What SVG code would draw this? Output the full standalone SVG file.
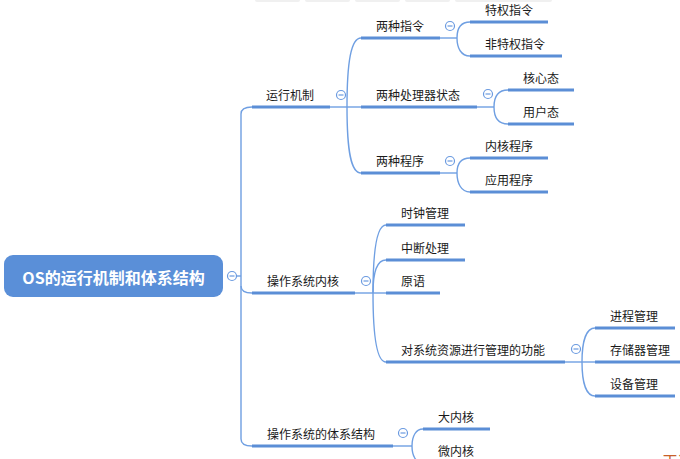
<svg xmlns="http://www.w3.org/2000/svg" width="680" height="459" viewBox="0 0 680 459">
<style>
  text { font-family: "Noto Sans CJK SC", "Liberation Sans", sans-serif; font-size: 12px; fill: #1a1a1a; }
  .root-text { font-size: 16px; font-weight: bold; fill: #ffffff; }
  .ul { stroke: #5B8ED6; stroke-width: 3; fill: none; }
  .ln { stroke: #6F9FE2; stroke-width: 1.4; fill: none; }
  .tog circle { fill: #ffffff; stroke: #6A9AE0; stroke-width: 1.2; }
  .tog line { stroke: #6A9AE0; stroke-width: 1.2; }
  .bar { fill: #f0f0f0; }
</style>
<rect x="0" y="0" width="680" height="459" fill="#ffffff"/>
<g id="toolbar">
  <rect class="bar" x="255" y="-4" width="45" height="6" rx="2"/>
  <rect class="bar" x="305" y="-4" width="45" height="6" rx="2"/>
  <rect class="bar" x="355" y="-4" width="45" height="6" rx="2"/>
  <rect class="bar" x="405" y="-4" width="45" height="6" rx="2"/>
  <rect class="bar" x="455" y="-4" width="97" height="6" rx="2"/>
</g>
<g id="connectors">
  <path class="ln" d="M237,276 L241,276"/>
  <path class="ln" d="M252,107 Q241,107 241,114 L241,439 Q241,446 252,446"/>
  <path class="ln" d="M241,286 Q241,293 252,293"/>
  <path class="ln" d="M330,107 L361,107"/>
  <path class="ln" d="M347,107 C347,62 351,38 361,38"/>
  <path class="ln" d="M347,107 C347,152 351,173 361,173"/>
  <path class="ln" d="M440,38 L457,38"/>
  <path class="ln" d="M457,38 C457,28 461,22 470,22"/>
  <path class="ln" d="M457,38 C457,48 461,56 470,56"/>
  <path class="ln" d="M477,107 L494,107"/>
  <path class="ln" d="M494,107 C494,97 498,90 508,90"/>
  <path class="ln" d="M494,107 C494,117 498,124 508,124"/>
  <path class="ln" d="M440,173 L457,173"/>
  <path class="ln" d="M457,173 C457,163 461,158 470,158"/>
  <path class="ln" d="M457,173 C457,183 461,192 470,192"/>
  <path class="ln" d="M355,293 L386,293"/>
  <path class="ln" d="M373,293 C373,248 377,225 386,225"/>
  <path class="ln" d="M373,293 C373,272 377,260 386,260"/>
  <path class="ln" d="M373,293 C373,338 377,362 386,362"/>
  <path class="ln" d="M565,362 L595,362"/>
  <path class="ln" d="M582,362 C582,342 586,328 595,328"/>
  <path class="ln" d="M582,362 C582,382 586,396 595,396"/>
  <path class="ln" d="M393,446 L412,446"/>
  <path class="ln" d="M412,446 C412,436 416,429 423,429"/>
  <path class="ln" d="M412,446 C412,456 416,463 423,463"/>
</g>
<g id="root">
  <rect x="4" y="255" width="219" height="42" rx="9" fill="#5A8FD8"/>
  <text class="root-text" x="113.5" y="284" text-anchor="middle">OS的运行机制和体系结构</text>
  <g class="tog"><circle cx="232" cy="276" r="4.5"/><line x1="229.5" y1="276" x2="234.5" y2="276"/></g>
</g>
<g id="n-yunxingjizhi">
  <text x="266" y="100">运行机制</text>
  <line class="ul" x1="252" y1="107" x2="330" y2="107"/>
  <g class="tog"><circle cx="341" cy="95" r="4.5"/><line x1="338.5" y1="95" x2="343.5" y2="95"/></g>
</g>
<g id="n-liangzhongzhiling">
  <text x="376" y="31">两种指令</text>
  <line class="ul" x1="361" y1="38" x2="440" y2="38"/>
  <g class="tog"><circle cx="450" cy="26" r="4.5"/><line x1="447.5" y1="26" x2="452.5" y2="26"/></g>
</g>
<g id="n-tequanzhiling">
  <text x="485" y="15">特权指令</text>
  <line class="ul" x1="470" y1="22" x2="548" y2="22"/>
</g>
<g id="n-feitequanzhiling">
  <text x="485" y="49">非特权指令</text>
  <line class="ul" x1="470" y1="56" x2="562" y2="56"/>
</g>
<g id="n-chuliqizhuangtai">
  <text x="376" y="100">两种处理器状态</text>
  <line class="ul" x1="361" y1="107" x2="477" y2="107"/>
  <g class="tog"><circle cx="488" cy="94" r="4.5"/><line x1="485.5" y1="94" x2="490.5" y2="94"/></g>
</g>
<g id="n-hexintai">
  <text x="523" y="83">核心态</text>
  <line class="ul" x1="508" y1="90" x2="574" y2="90"/>
</g>
<g id="n-yonghutai">
  <text x="523" y="117">用户态</text>
  <line class="ul" x1="508" y1="124" x2="574" y2="124"/>
</g>
<g id="n-liangzhongchengxu">
  <text x="376" y="166">两种程序</text>
  <line class="ul" x1="361" y1="173" x2="440" y2="173"/>
  <g class="tog"><circle cx="450" cy="161" r="4.5"/><line x1="447.5" y1="161" x2="452.5" y2="161"/></g>
</g>
<g id="n-neihechengxu">
  <text x="485" y="151">内核程序</text>
  <line class="ul" x1="470" y1="158" x2="548" y2="158"/>
</g>
<g id="n-yingyongchengxu">
  <text x="485" y="185">应用程序</text>
  <line class="ul" x1="470" y1="192" x2="548" y2="192"/>
</g>
<g id="n-neihe">
  <text x="267" y="286">操作系统内核</text>
  <line class="ul" x1="252" y1="293" x2="355" y2="293"/>
  <g class="tog"><circle cx="366" cy="281" r="4.5"/><line x1="363.5" y1="281" x2="368.5" y2="281"/></g>
</g>
<g id="n-shizhong">
  <text x="401" y="218">时钟管理</text>
  <line class="ul" x1="386" y1="225" x2="465" y2="225"/>
</g>
<g id="n-zhongduan">
  <text x="401" y="253">中断处理</text>
  <line class="ul" x1="386" y1="260" x2="465" y2="260"/>
</g>
<g id="n-yuanyu">
  <text x="401" y="286">原语</text>
  <line class="ul" x1="386" y1="293" x2="440" y2="293"/>
</g>
<g id="n-ziyuanguanli">
  <text x="401" y="355">对系统资源进行管理的功能</text>
  <line class="ul" x1="386" y1="362" x2="565" y2="362"/>
  <g class="tog"><circle cx="576" cy="349" r="4.5"/><line x1="573.5" y1="349" x2="578.5" y2="349"/></g>
</g>
<g id="n-jincheng">
  <text x="610" y="321">进程管理</text>
  <line class="ul" x1="595" y1="328" x2="675" y2="328"/>
</g>
<g id="n-cunchuqi">
  <text x="610" y="355">存储器管理</text>
  <line class="ul" x1="595" y1="362" x2="687" y2="362"/>
</g>
<g id="n-shebei">
  <text x="610" y="389">设备管理</text>
  <line class="ul" x1="595" y1="396" x2="675" y2="396"/>
</g>
<g id="n-tixijiegou">
  <text x="267" y="439">操作系统的体系结构</text>
  <line class="ul" x1="252" y1="446" x2="393" y2="446"/>
  <g class="tog"><circle cx="403" cy="433" r="4.5"/><line x1="400.5" y1="433" x2="405.5" y2="433"/></g>
</g>
<g id="n-daneihe">
  <text x="438" y="422">大内核</text>
  <line class="ul" x1="423" y1="429" x2="490" y2="429"/>
</g>
<g id="n-weineihe">
  <text x="438" y="456">微内核</text>
  <line class="ul" x1="423" y1="463" x2="490" y2="463"/>
</g>
<g id="watermark">
  <text x="662" y="468" style="font-size:16px; fill:#C8602A;">王道</text>
</g>
</svg>
